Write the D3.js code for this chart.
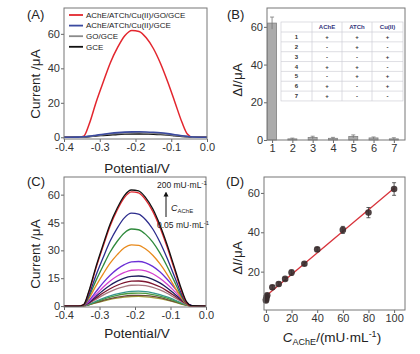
<html>
<head>
    <!-- D3 v7 -->
    <script src="https://cdn.jsdelivr.net/npm/d3@7/dist/d3.min.js"></script>
    <style>
        body { margin: 0; background: #fff; }
        svg { font-family: "Liberation Sans", Arial, sans-serif; }
    </style>
</head>
<body>
<script>

    // shared potential grid (V) of the voltammograms in (A) and (C)
    var potential = [-0.40, -0.36, -0.345, -0.33, -0.31, -0.29, -0.27, -0.25, -0.23, -0.21, -0.19, -0.17, -0.15, -0.13, -0.11, -0.09, -0.07, -0.055, -0.04, 0.00];

    /*
     * (A) the four electrodes
     */
    var seriesA = ["AChE/ATCh/Cu(II)/GO/GCE", "AChE/ATCh/Cu(II)/GCE", "GO/GCE", "GCE"];
    var coloursA = ["#e3262e", "#3b4aa0", "#8a8a8a", "#111111"];
    var curGOGCE = [0, 0, 0.6, 7.4, 20.5, 32.2, 43.4, 52.1, 58.9, 62.0, 61.4, 57.7, 51.5, 42.8, 32.2, 20.5, 8.7, 1.9, 0, 0];
    var curCuGCE = [0, 0.1, 0.3, 0.6, 1.2, 1.8, 2.3, 2.7, 3.0, 3.15, 3.2, 3.1, 2.9, 2.6, 2.1, 1.5, 0.9, 0.5, 0.2, 0];
    var curGO = [0, 0.1, 0.2, 0.5, 1.0, 1.5, 1.9, 2.2, 2.4, 2.55, 2.6, 2.5, 2.3, 2.1, 1.7, 1.2, 0.7, 0.4, 0.1, 0];
    var curGCE = [0, 0.1, 0.2, 0.4, 0.8, 1.1, 1.4, 1.7, 1.9, 2.0, 2.0, 1.9, 1.8, 1.6, 1.3, 0.9, 0.5, 0.3, 0.1, 0];

    /*
     * (B) control experiments, bar + table
     */
    var groupsB = [1, 2, 3, 4, 5, 6, 7];
    var deltaB = [62.0, 0.6, 1.3, 0.9, 1.9, 1.1, 0.6];
    var errorB = [3.2, 0.4, 0.7, 0.5, 0.8, 0.5, 0.6];
    var tableHead = ["", "AChE", "ATCh", "Cu(II)"];
    var tableAChE = ["+", "-", "-", "+", "-", "+", "+"];
    var tableATCh = ["+", "+", "-", "+", "+", "-", "-"];
    var tableCu = ["+", "-", "+", "-", "+", "+", "-"];

    /*
     * (C) DPV curves for each AChE concentration (mU/mL)
     */
    var c200 = [0, 0, 0.7, 8.0, 21.2, 33.0, 44.2, 52.8, 59.5, 62.5, 62.0, 58.4, 52.4, 43.8, 33.3, 21.5, 9.6, 2.4, 0.2, 0];
    var c100 = [0, 0, 0.6, 7.4, 20.3, 32.0, 43.1, 51.7, 58.4, 61.5, 60.9, 57.2, 51.0, 42.4, 32.0, 20.3, 8.6, 1.8, 0, 0];
    var c80 = [0, 0, 0.5, 6.0, 16.5, 26.0, 35.0, 42.0, 47.5, 50.0, 49.5, 46.5, 41.5, 34.5, 26.0, 16.5, 7.0, 1.5, 0, 0];
    var c60 = [0, 0, 0.4, 5.0, 13.7, 21.6, 29.1, 34.9, 39.4, 41.5, 41.1, 38.6, 34.4, 28.6, 21.6, 13.7, 5.8, 1.2, 0, 0];
    var c40 = [0, 0, 0.3, 4.0, 10.9, 17.2, 23.1, 27.7, 31.4, 33.0, 32.7, 30.7, 27.4, 22.8, 17.2, 10.9, 4.6, 1.0, 0, 0];
    var c30 = [0, 0, 0.5, 2.9, 7.7, 12.5, 16.6, 19.9, 22.3, 23.8, 24.0, 23.3, 21.4, 18.5, 14.6, 10.1, 5.3, 1.9, 0.2, 0];
    var c20 = [0, 0, 0.4, 2.3, 6.2, 10.1, 13.5, 16.2, 18.1, 19.3, 19.5, 18.9, 17.4, 15.0, 11.9, 8.2, 4.3, 1.6, 0.2, 0];
    var c15 = [0, 0, 0.3, 1.9, 5.2, 8.4, 11.2, 13.4, 15.1, 16.0, 16.2, 15.7, 14.4, 12.5, 9.9, 6.8, 3.6, 1.3, 0.2, 0];
    var c10 = [0, 0, 0.3, 1.6, 4.3, 7.0, 9.3, 11.2, 12.6, 13.4, 13.5, 13.1, 12.0, 10.4, 8.2, 5.7, 3.0, 1.1, 0.1, 0];
    var c5 = [0, 0, 0.2, 1.4, 3.6, 5.9, 7.8, 9.4, 10.5, 11.2, 11.3, 11.0, 10.1, 8.7, 6.9, 4.7, 2.5, 0.9, 0.1, 0];
    var c1 = [0, 0, 0.2, 1.0, 2.6, 4.2, 5.5, 6.6, 7.4, 7.9, 8.0, 7.8, 7.1, 6.2, 4.9, 3.4, 1.8, 0.6, 0.1, 0];
    var c05 = [0, 0, 0.1, 0.8, 2.2, 3.6, 4.8, 5.8, 6.5, 6.9, 7.0, 6.8, 6.2, 5.4, 4.3, 2.9, 1.5, 0.6, 0.1, 0];
    var c01 = [0, 0, 0.1, 0.7, 1.9, 3.0, 4.0, 4.8, 5.4, 5.7, 5.8, 5.6, 5.2, 4.5, 3.5, 2.4, 1.3, 0.5, 0.1, 0];
    var c005 = [0, 0, 0.1, 0.6, 1.7, 2.7, 3.6, 4.3, 4.8, 5.1, 5.2, 5.0, 4.6, 4.0, 3.2, 2.2, 1.1, 0.4, 0.1, 0];
    // smallest first so the big ones sit on top
    var curvesC = [c005, c01, c05, c1, c5, c10, c15, c20, c30, c40, c60, c80, c100, c200];
    var coloursC = ["#a3a03a", "#6e4a3a", "#4c9a3e", "#36958a", "#a87880", "#7d1630", "#1e1e5e",
                    "#d340cf", "#6b30d6", "#e88a1c", "#2f8a3c", "#2c2c8c", "#e3262e", "#111111"];

    /*
     * (D) calibration
     */
    var concD = [0.05, 0.1, 0.5, 1, 5, 10, 15, 20, 30, 40, 60, 80, 100];
    var deltaD = [5.3, 6.0, 7.0, 8.0, 12.0, 13.7, 16.3, 19.5, 24.0, 31.3, 41.2, 50.0, 62.0];
    var errorD = [0.8, 0.7, 0.8, 0.8, 1.0, 1.0, 0.8, 1.4, 0.8, 1.0, 1.8, 2.6, 3.2];
    var fitX = [0, 100];
    var fitY = [7.6, 62.4];

    // tick values
    var ticksPot = [-0.4, -0.3, -0.2, -0.1, 0.0];
    var ticksA = [0, 20, 40, 60];
    var ticksB = [0, 20, 40, 60];
    var ticksC = [0, 15, 30, 45, 60];
    var ticksDx = [0, 20, 40, 60, 80, 100];
    var ticksDy = [20, 40, 60];

    var svg = d3.select("body")
        .append("svg")
        .attr("width", 420)
        .attr("height", 354);

    /*
     * axes + box round a panel
     */
    function drawFrame(g, w, h, x, y, xTicks, yTicks, xFormat) {
        var xa = g.append("g")
            .attr("transform", "translate(0," + h + ")")
            .call(d3.axisBottom(x).tickValues(xTicks).tickFormat(xFormat).tickSize(3).tickPadding(1));
        var ya = g.append("g")
            .call(d3.axisLeft(y).tickValues(yTicks).tickFormat(d => d).tickSize(3).tickPadding(1));

        [xa, ya].forEach(function (a) {
            a.attr("font-family", null).attr("font-size", 11);
            a.select(".domain").remove();
            a.selectAll("line").attr("stroke", "#666");
            a.selectAll("text").attr("fill", "#333");
        });

        g.append("rect")
            .attr("width", w)
            .attr("height", h)
            .attr("fill", "none")
            .attr("stroke", "#777");
    }

    function panelLabel(txt, x, y) {
        svg.append("text").attr("x", x).attr("y", y)
            .attr("font-size", 13).attr("fill", "#222").text(txt);
    }

    function yTitle(x, y) {
        return svg.append("text")
            .attr("transform", "translate(" + x + "," + y + ") rotate(-90)")
            .attr("text-anchor", "middle")
            .attr("dy", "0.35em")
            .attr("font-size", 13.5)
            .attr("fill", "#222");
    }

    function xTitle(x, y) {
        return svg.append("text")
            .attr("x", x).attr("y", y)
            .attr("text-anchor", "middle")
            .attr("font-size", 13.5)
            .attr("fill", "#222");
    }

    var potFormat = d => d.toFixed(1);

    /* ---------------- (A) ---------------- */
    var wA = 143, hA = 131;
    var gA = svg.append("g").attr("transform", "translate(64,8)");
    var xA = d3.scaleLinear().domain([-0.4, 0]).range([0, wA]);
    var yA = d3.scaleLinear().domain([-1, 75]).range([hA, 0]);

    var lineA = d3.line()
        .x((d, i) => xA(potential[i]))
        .y(d => yA(d))
        .curve(d3.curveMonotoneX);

    var curvesA = [curGOGCE, curCuGCE, curGO, curGCE];
    // red first, then the small ones on top
    [0, 3, 2, 1].forEach(function (k) {
        gA.append("path")
            .datum(curvesA[k])
            .attr("fill", "none")
            .attr("stroke", coloursA[k])
            .attr("stroke-width", k == 0 ? 1.5 : 1.6)
            .attr("d", lineA);
    });

    drawFrame(gA, wA, hA, xA, yA, ticksPot, ticksA, potFormat);

    // legend
    var legA = gA.append("g").attr("transform", "translate(5,7)");
    seriesA.forEach(function (s, i) {
        legA.append("line")
            .attr("x1", 0).attr("x2", 14)
            .attr("y1", i * 10.6).attr("y2", i * 10.6)
            .attr("stroke", coloursA[i]).attr("stroke-width", 1.8);
        legA.append("text")
            .attr("x", 17).attr("y", i * 10.6)
            .attr("dy", "0.35em")
            .attr("font-size", 8)
            .attr("fill", "#222")
            .text(s);
    });

    panelLabel("(A)", 27, 19);
    yTitle(35, 84).text("Current /μA");
    xTitle(137, 173).text("Potential/V");

    /* ---------------- (B) ---------------- */
    var wB = 138, hB = 132;
    var gB = svg.append("g").attr("transform", "translate(267,8)");
    var xB = d3.scaleLinear().domain([0.75, 7.55]).range([0, wB]);
    var yB = d3.scaleLinear().domain([0, 70]).range([hB, 0]);
    var barW = 9;

    gB.selectAll(".bar")
        .data(deltaB)
        .enter()
        .append("rect")
        .attr("x", (d, i) => xB(groupsB[i]) - barW / 2)
        .attr("y", d => yB(d))
        .attr("width", barW)
        .attr("height", d => hB - yB(d))
        .attr("fill", "#ababab")
        .attr("stroke", "#808080")
        .attr("stroke-width", 0.8);

    // error bars
    groupsB.forEach(function (g, i) {
        var cx = xB(g);
        gB.append("line")
            .attr("x1", cx).attr("x2", cx)
            .attr("y1", yB(deltaB[i] - errorB[i])).attr("y2", yB(deltaB[i] + errorB[i]))
            .attr("stroke", "#777").attr("stroke-width", 0.8);
        gB.append("line")
            .attr("x1", cx - 2).attr("x2", cx + 2)
            .attr("y1", yB(deltaB[i] + errorB[i])).attr("y2", yB(deltaB[i] + errorB[i]))
            .attr("stroke", "#777").attr("stroke-width", 0.8);
    });

    // inset table
    var tab = gB.append("g").attr("transform", "translate(14,14)");
    var colX = [0, 31, 61, 91, 122];
    var headH = 10, rowH = 9.85;
    var tabH = headH + rowH * groupsB.length;
    tab.append("rect")
        .attr("width", colX[4]).attr("height", tabH)
        .attr("fill", "#fff").attr("stroke", "#c8c8d0").attr("stroke-width", 0.6);
    for (var c = 1; c < 4; c++) {
        tab.append("line")
            .attr("x1", colX[c]).attr("x2", colX[c])
            .attr("y1", 0).attr("y2", tabH)
            .attr("stroke", "#c8c8d0").attr("stroke-width", 0.6);
    }
    for (var r = 0; r < groupsB.length; r++) {
        tab.append("line")
            .attr("x1", 0).attr("x2", colX[4])
            .attr("y1", headH + r * rowH).attr("y2", headH + r * rowH)
            .attr("stroke", "#c8c8d0").attr("stroke-width", 0.6);
    }
    tableHead.forEach(function (t, c) {
        tab.append("text")
            .attr("x", (colX[c] + colX[c + 1]) / 2).attr("y", headH / 2)
            .attr("dy", "0.35em").attr("text-anchor", "middle")
            .attr("font-size", 6).attr("font-weight", "bold")
            .attr("fill", "#34347c").text(t);
    });
    groupsB.forEach(function (g, r) {
        var row = [g, tableAChE[r], tableATCh[r], tableCu[r]];
        row.forEach(function (t, c) {
            tab.append("text")
                .attr("x", (colX[c] + colX[c + 1]) / 2)
                .attr("y", headH + r * rowH + rowH / 2)
                .attr("dy", "0.35em").attr("text-anchor", "middle")
                .attr("font-size", 6).attr("font-weight", "bold")
                .attr("fill", "#333").text(t);
        });
    });

    drawFrame(gB, wB, hB, xB, yB, groupsB, ticksB, d => d);

    panelLabel("(B)", 227, 19);
    var tB = yTitle(237, 80);
    tB.append("tspan").text("Δ");
    tB.append("tspan").attr("font-style", "italic").text("I");
    tB.append("tspan").text("/μA");

    /* ---------------- (C) ---------------- */
    var wC = 142, hC = 130;
    var gC = svg.append("g").attr("transform", "translate(64,177)");
    var xC = d3.scaleLinear().domain([-0.4, 0]).range([0, wC]);
    var yC = d3.scaleLinear().domain([-0.5, 69.5]).range([hC, 0]);

    var lineC = d3.line()
        .x((d, i) => xC(potential[i]))
        .y(d => yC(d))
        .curve(d3.curveMonotoneX);

    curvesC.forEach(function (cur, k) {
        gC.append("path")
            .datum(cur)
            .attr("fill", "none")
            .attr("stroke", coloursC[k])
            .attr("stroke-width", 1.3)
            .attr("d", lineC);
    });

    drawFrame(gC, wC, hC, xC, yC, ticksPot, ticksC, potFormat);

    // concentration arrow
    svg.append("defs").append("marker")
        .attr("id", "head").attr("viewBox", "0 0 10 10")
        .attr("refX", 5).attr("refY", 5)
        .attr("markerWidth", 5).attr("markerHeight", 6)
        .attr("orient", "auto")
        .append("path").attr("d", "M0,0 L10,5 L0,10 z").attr("fill", "#111");
    svg.append("line")
        .attr("x1", 166).attr("x2", 166).attr("y1", 217).attr("y2", 194)
        .attr("stroke", "#111").attr("stroke-width", 1)
        .attr("marker-end", "url(#head)");

    var hiT = svg.append("text").attr("x", 157).attr("y", 188).attr("font-size", 8.5).attr("fill", "#222");
    hiT.append("tspan").text("200 mU·mL");
    hiT.append("tspan").attr("dy", -3).attr("font-size", 6).text("-1");
    var loT = svg.append("text").attr("x", 157).attr("y", 228).attr("font-size", 8.5).attr("fill", "#222");
    loT.append("tspan").text("0.05 mU·mL");
    loT.append("tspan").attr("dy", -3).attr("font-size", 6).text("-1");
    var cT = svg.append("text").attr("x", 171).attr("y", 211).attr("font-size", 9).attr("fill", "#222");
    cT.append("tspan").attr("font-style", "italic").text("C");
    cT.append("tspan").attr("dy", 2).attr("font-size", 6).text("AChE");

    panelLabel("(C)", 27, 186);
    yTitle(35, 254).text("Current /μA");
    xTitle(137, 338).text("Potential/V");

    /* ---------------- (D) ---------------- */
    var wD = 141, hD = 133;
    var gD = svg.append("g").attr("transform", "translate(264,177)");
    var xD = d3.scaleLinear().domain([-1.5, 108.5]).range([0, wD]);
    var yD = d3.scaleLinear().domain([0.5, 68.1]).range([hD, 0]);

    // linear fit
    gD.append("path")
        .datum(fitX)
        .attr("fill", "none")
        .attr("stroke", "#d8323a")
        .attr("stroke-width", 1.3)
        .attr("d", d3.line().x(d => xD(d)).y((d, i) => yD(fitY[i])));

    concD.forEach(function (c, i) {
        var cx = xD(c), top = yD(deltaD[i] + errorD[i]), bot = yD(deltaD[i] - errorD[i]);
        gD.append("line").attr("x1", cx).attr("x2", cx).attr("y1", top).attr("y2", bot)
            .attr("stroke", "#333").attr("stroke-width", 0.8);
        [top, bot].forEach(function (yy) {
            gD.append("line").attr("x1", cx - 2).attr("x2", cx + 2).attr("y1", yy).attr("y2", yy)
                .attr("stroke", "#333").attr("stroke-width", 0.8);
        });
    });

    gD.selectAll(".pt")
        .data(deltaD)
        .enter()
        .append("circle")
        .attr("cx", (d, i) => xD(concD[i]))
        .attr("cy", d => yD(d))
        .attr("r", 3.3)
        .attr("fill", "#3a2c2e")
        .attr("fill-opacity", 0.9);

    drawFrame(gD, wD, hD, xD, yD, ticksDx, ticksDy, d => d);

    panelLabel("(D)", 226, 186);
    var tD = yTitle(237, 258);
    tD.append("tspan").text("Δ");
    tD.append("tspan").attr("font-style", "italic").text("I");
    tD.append("tspan").text("/μA");

    var tDx = xTitle(332, 342);
    tDx.append("tspan").attr("font-style", "italic").text("C");
    tDx.append("tspan").attr("dy", 3).attr("font-size", 9).text("AChE");
    tDx.append("tspan").attr("dy", -3).text("/(mU·mL");
    tDx.append("tspan").attr("dy", -5).attr("font-size", 9).text("-1");
    tDx.append("tspan").attr("dy", 5).text(")");

</script>
</body>
</html>
